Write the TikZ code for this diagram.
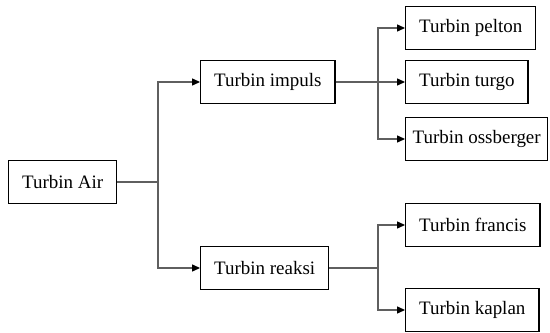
\documentclass[tikz,border=0pt]{standalone}
\usepackage{fontspec}
\setmainfont{Liberation Serif}
\usepackage{tikz}
\usetikzlibrary{arrows.meta,positioning,calc}
\definecolor{linecolor}{RGB}{95,95,95}

\begin{document}
\begin{tikzpicture}[
    x=0.2mm, y=-0.2mm,
    box/.style={
        rectangle, draw, line width=0.7pt,
        minimum height=0.86cm, inner xsep=0.27cm,
        anchor=west, font=\fontsize{10.8}{12}\selectfont
    },
    link/.style={draw=linecolor, line width=0.6pt},
    arrow/.style={link, -{Triangle[length=4.5pt,width=4pt,color=black]}}
]
\useasboundingbox (0,0) rectangle (550,332);

% Root
\node[box] (air) at (8, 182) {Turbin Air};

% Main types
\node[box] (impuls) at (200, 82) {Turbin impuls};
\node[box] (reaksi) at (200, 268) {Turbin reaksi};

\coordinate (split_air) at (158, 182);
\draw[link] (air.east) -- (split_air);
\draw[arrow] (split_air) |- (impuls.west);
\draw[arrow] (split_air) |- (reaksi.west);

% Impulse turbines
\node[box] (pelton) at (405, 28) {Turbin pelton};
\node[box] (turgo) at (405, 82) {Turbin turgo};
\node[box, inner xsep=0.14cm] (ossberger) at (405, 139) {Turbin ossberger};

\coordinate (split_imp) at (378, 82);
\draw[arrow] (impuls.east) -- (turgo.west);
\draw[arrow] (split_imp) |- (pelton.west);
\draw[arrow] (split_imp) |- (ossberger.west);

% Reaction turbines
\node[box] (francis) at (405, 225) {Turbin francis};
\node[box] (kaplan) at (405, 310) {Turbin kaplan};

\coordinate (split_rea) at (378, 268);
\draw[link] (reaksi.east) -- (split_rea);
\draw[arrow] (split_rea) |- (francis.west);
\draw[arrow] (split_rea) |- (kaplan.west);

\end{tikzpicture}
\end{document}
